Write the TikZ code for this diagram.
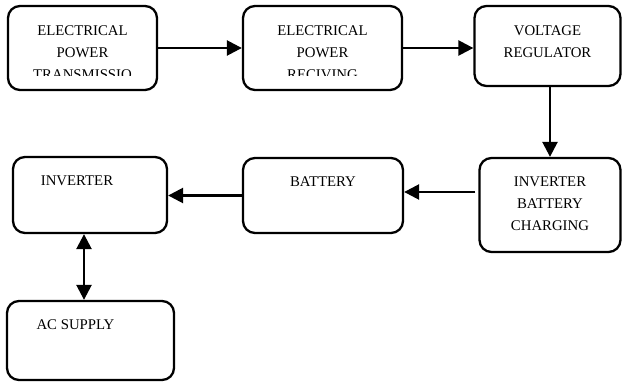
\documentclass[tikz,border=0pt]{standalone}
\usepackage{fontspec}
\setmainfont{Liberation Serif}
\usetikzlibrary{arrows.meta,positioning,calc}
\tikzset{
  blk/.style={rectangle, rounded corners=12pt, draw=black, line width=2.3pt,
              inner sep=0pt},
  blktext/.style={anchor=north, inner sep=0pt, align=center,
                  font=\fontsize{14.8}{21.8}\selectfont},
  flow/.style={-{Triangle[length=15pt,width=15pt]}, line width=2.5pt},
  bothflow/.style={{Triangle[length=15pt,width=15pt]}-{Triangle[length=15pt,width=15pt]}, line width=2.5pt},
}

\begin{document}
\begin{tikzpicture}[x=1pt,y=-1pt]
  \useasboundingbox (0,0) rectangle (622,383);

  % Blocks
  \node[blk, minimum width=149pt, minimum height=84pt] (ptx)  at (82.5,48) {};
  \node[blk, minimum width=159pt, minimum height=84pt] (prx)  at (322.5,48) {};
  \node[blk, minimum width=146pt, minimum height=80pt] (vreg) at (547.5,46) {};
  \node[blk, minimum width=141pt, minimum height=94pt] (chg)  at (550,205) {};
  \node[blk, minimum width=160pt, minimum height=75pt] (bat)  at (323,195.5) {};
  \node[blk, minimum width=154pt, minimum height=76pt] (inv)  at (90,195) {};
  \node[blk, minimum width=167pt, minimum height=79pt] (acsup) at (90.5,340.5) {};

  % Texts (top boxes cut off at the bottom)
  \begin{scope}
    \clip (0,6) rectangle (420,75.5);
    \node[blktext] (ptxtext) at ($(ptx.north)+(0,21)$) {ELECTRICAL\\POWER\\TRANSMISSIO};
    \node[blktext] (prxtext) at ($(prx.north)+(0,21)$) {ELECTRICAL\\POWER\\RECIVING};
  \end{scope}
  \node[blktext] (vregtext) at ($(vreg.north)+(0,21)$) {VOLTAGE\\REGULATOR};
  \node[blktext] (chgtext) at ($(chg.north)+(0,20)$) {INVERTER\\BATTERY\\CHARGING};
  \node[blktext] (battext) at ($(bat.north)+(0,19.5)$) {BATTERY};
  \node[blktext] (invtext) at ($(inv.north)+(-13,19.5)$) {INVERTER};
  \node[blktext] (acsuptext) at ($(acsup.north)+(-15,19.5)$) {AC SUPPLY};

  % Connectors
  \draw[flow] (ptx.east) -- (prx.west);
  \draw[flow] (prx.east) -- (prx.east -| vreg.west);
  \draw[flow] ([xshift=2.5pt]vreg.south) -- ([xshift=2.5pt]vreg.south |- chg.north);
  \draw[flow] ([xshift=-3pt,yshift=13pt]chg.west) -- ([yshift=13pt]chg.west -| bat.east);
  \draw[flow] (bat.west) -- (bat.west -| inv.east);
  \draw[bothflow] ([xshift=-6pt]inv.south) -- ([xshift=-6pt]inv.south |- acsup.north);
\end{tikzpicture}
\end{document}
